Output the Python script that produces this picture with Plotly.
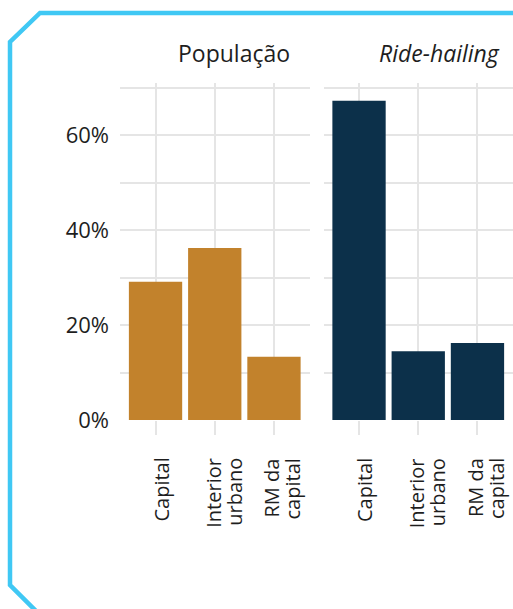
import plotly.graph_objects as go

W, H = 513, 609

# Share of each region (%)
regioes = ["Capital", "Interior urbano", "RM da capital"]
regioes_linhas = [["Capital"], ["Interior", "urbano"], ["RM da", "capital"]]
populacao = [29.1, 36.2, 13.3]
ride_hailing = [67.2, 14.5, 16.2]
painel_titulos = ["População", "<i>Ride-hailing</i>"]
y_ticks = [0, 20, 40, 60]
y_tick_labels = ["0%", "20%", "40%", "60%"]

COR_POP = "#C2822C"
COR_RIDE = "#0C304A"
GRID = "#E5E5E5"
TXT = "#1E1E1E"
FRAME = "#40C8F4"
FONT = "Open Sans"


def px_x(x):
    return x / W


def px_y(y):
    return 1 - y / H


fig = go.Figure()
fig.add_trace(go.Bar(x=regioes, y=populacao, marker=dict(color=COR_POP, line=dict(width=0)),
                     xaxis="x", yaxis="y", showlegend=False))
fig.add_trace(go.Bar(x=regioes, y=ride_hailing, marker=dict(color=COR_RIDE, line=dict(width=0)),
                     xaxis="x2", yaxis="y2", showlegend=False))

y_bottom, y_top = 420, 83
y_max = (y_bottom - y_top) / ((y_bottom - 325) / 20)

xaxis_common = dict(
    type="category", range=[-0.6, 2.6], showgrid=True, gridcolor=GRID, gridwidth=2,
    ticks="outside", ticklen=14, tickwidth=2, tickcolor=GRID,
    showticklabels=False, showline=False, zeroline=False, automargin=False,
)
yaxis_common = dict(
    range=[0, y_max], domain=[px_y(y_bottom), px_y(y_top)],
    tickvals=y_ticks, ticktext=y_tick_labels, showgrid=True, gridcolor=GRID, gridwidth=2,
    minor=dict(tickvals=[10, 30, 50, 70], showgrid=True, gridcolor=GRID, gridwidth=1.5),
    zeroline=False, showline=False, ticks="", automargin=False,
)

fig.update_layout(
    width=W, height=H,
    margin=dict(l=0, r=0, t=0, b=0, autoexpand=False),
    paper_bgcolor="white", plot_bgcolor="white",
    bargap=0.1,
    xaxis=dict(domain=[px_x(120), px_x(309.5)], anchor="y", **xaxis_common),
    xaxis2=dict(domain=[px_x(323.5), 1], anchor="y2", **xaxis_common),
    yaxis=dict(anchor="x", ticklabelstandoff=10,
               tickfont=dict(family=FONT, size=22, color=TXT), **yaxis_common),
    yaxis2=dict(anchor="x2", matches="y", showticklabels=False, **yaxis_common),
)

# Category labels, rotated, one text line per annotation
for xref in ("x", "x2"):
    for cat, linhas in zip(regioes, regioes_linhas):
        shifts = [5] if len(linhas) == 1 else [-2, 19]
        for linha, dx in zip(linhas, shifts):
            fig.add_annotation(text=linha, x=cat, y=px_y(457), xref=xref, yref="paper",
                               xshift=dx, textangle=-90, xanchor="center", yanchor="top",
                               showarrow=False, borderpad=0,
                               font=dict(family=FONT, size=20, color=TXT))

# Panel titles
for titulo, cx in zip(painel_titulos, [234, 439]):
    fig.add_annotation(text=titulo, x=px_x(cx), y=px_y(53), xref="paper", yref="paper",
                       xanchor="center", yanchor="middle", showarrow=False,
                       font=dict(family=FONT, size=23, color=TXT))

# Outer frame with cut corners
pts = [(560, 13), (40, 13), (10, 42), (10, 585), (44, 619)]
path = "M " + " L ".join(f"{px_x(x)},{px_y(y)}" for x, y in pts)
fig.add_shape(type="path", path=path, xref="paper", yref="paper",
              line=dict(color=FRAME, width=4.5), layer="above")

fig.write_html("out.html")
